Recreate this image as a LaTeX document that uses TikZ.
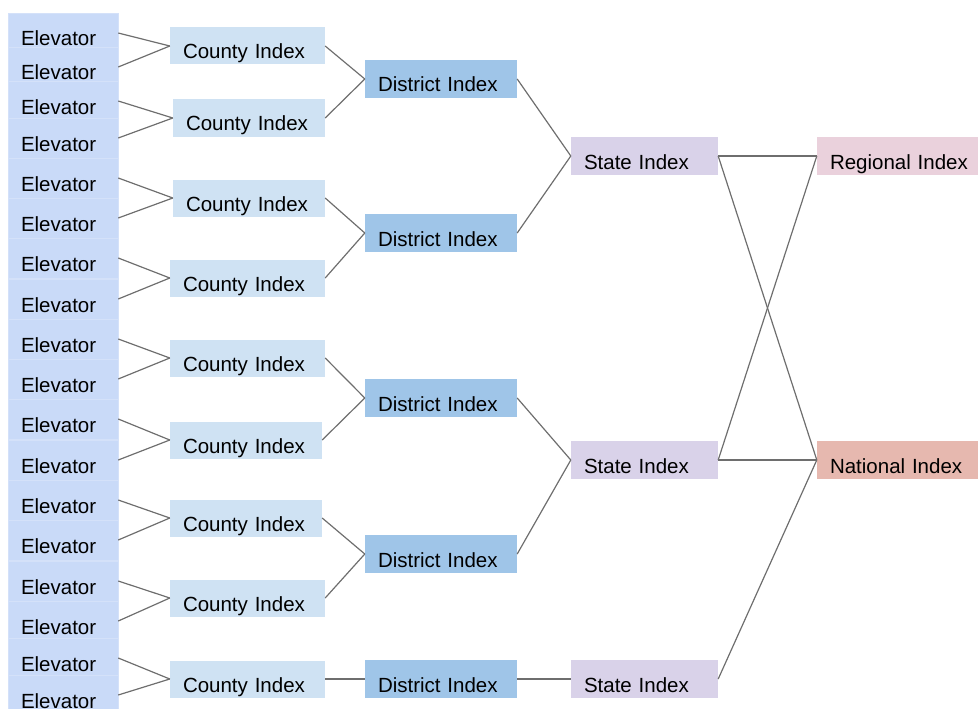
\documentclass[tikz,border=0pt]{standalone}
\usepackage{fontspec}
\setmainfont{Liberation Sans}
\usepackage{tikz}
\usetikzlibrary{shapes,arrows}
\definecolor{elevblue}{HTML}{C9DAF8}
\definecolor{countyblue}{HTML}{CFE2F3}
\definecolor{districtblue}{HTML}{9FC5E8}
\definecolor{statepurple}{HTML}{D9D2E9}
\definecolor{regionpink}{HTML}{EAD1DC}
\definecolor{nationred}{HTML}{E6B8AF}
\definecolor{linegray}{HTML}{6E6E6E}
\tikzstyle{box} = [rectangle, draw=none, align=left, inner xsep=13pt, inner ysep=0pt, text height=26pt, text depth=0pt, font=\fontsize{20.5}{24}\selectfont]
\tikzstyle{elev} = [box, fill=elevblue, draw=elevblue!80!white, line width=0.5pt, text width=84pt, minimum height=40pt]
\tikzstyle{county} = [box, fill=countyblue, text width=129pt, minimum height=37pt]
\tikzstyle{district} = [box, fill=districtblue, text width=126pt, minimum height=38pt]
\tikzstyle{state} = [box, fill=statepurple, text width=121pt, minimum height=38pt]
\tikzstyle{top} = [box, text width=135pt, minimum height=38pt]
\tikzstyle{link} = [draw=linegray, line width=1.2pt]

\begin{document}
\begin{tikzpicture}[x=1pt,y=-1pt]

\useasboundingbox (0,0) rectangle (978,709);

% elevators
\node[elev] (1) at (63,33) {Elevator};
\node[elev] (2) at (63,67) {Elevator};
\node[elev] (3) at (63,101) {Elevator};
\node[elev] (4) at (63,138) {Elevator};
\node[elev] (5) at (63,178) {Elevator};
\node[elev] (6) at (63,218) {Elevator};
\node[elev] (7) at (63,258) {Elevator};
\node[elev] (8) at (63,299) {Elevator};
\node[elev] (9) at (63,339) {Elevator};
\node[elev] (10) at (63,379) {Elevator};
\node[elev] (11) at (63,419) {Elevator};
\node[elev] (12) at (63,460) {Elevator};
\node[elev] (13) at (63,500) {Elevator};
\node[elev] (14) at (63,540) {Elevator};
\node[elev] (15) at (63,581) {Elevator};
\node[elev] (16) at (63,621) {Elevator};
\node[elev] (17) at (63,658) {Elevator};
\node[elev] (18) at (63,695) {Elevator};

% counties
\node[county] (21) at (247.5,46) {County Index};
\node[county, text width=126pt] (22) at (249,118) {County Index};
\node[county, text width=126pt] (23) at (249,198) {County Index};
\node[county] (24) at (247.5,278) {County Index};
\node[county] (25) at (247.5,358) {County Index};
\node[county, text width=126pt] (26) at (246,440) {County Index};
\node[county, text width=126pt] (27) at (246,518) {County Index};
\node[county] (28) at (247.5,598) {County Index};
\node[county] (29) at (247.5,679) {County Index};

% districts
\node[district] (31) at (441,79) {District Index};
\node[district] (32) at (441,233) {District Index};
\node[district] (33) at (441,398) {District Index};
\node[district] (34) at (441,554) {District Index};
\node[district] (35) at (441,679) {District Index};

% states
\node[state] (41) at (644.5,156) {State Index};
\node[state] (42) at (644.5,460) {State Index};
\node[state] (43) at (644.5,679) {State Index};

\node[top, fill=regionpink] (51) at (897.5,156) {\mbox{Regional Index}};
\node[top, fill=nationred] (52) at (897.5,460) {\mbox{National Index}};

\path
(1.east) edge [link] (21.west)
(2.east) edge [link] (21.west)
(3.east) edge [link] (22.west)
(4.east) edge [link] (22.west)
(5.east) edge [link] (23.west)
(6.east) edge [link] (23.west)
(7.east) edge [link] (24.west)
(8.east) edge [link] (24.west)
(9.east) edge [link] (25.west)
(10.east) edge [link] (25.west)
(11.east) edge [link] (26.west)
(12.east) edge [link] (26.west)
(13.east) edge [link] (27.west)
(14.east) edge [link] (27.west)
(15.east) edge [link] (28.west)
(16.east) edge [link] (28.west)
(17.east) edge [link] (29.west)
(18.east) edge [link] (29.west);

\path
(21.east) edge [link] (31.west)
(22.east) edge [link] (31.west)
(23.east) edge [link] (32.west)
(24.east) edge [link] (32.west)
(25.east) edge [link] (33.west)
(26.east) edge [link] (33.west)
(27.east) edge [link] (34.west)
(28.east) edge [link] (34.west)
(29.east) edge [link] (35.west);

\path
(31.east) edge [link] (41.west)
(32.east) edge [link] (41.west)
(33.east) edge [link] (42.west)
(34.east) edge [link] (42.west)
(35.east) edge [link] (43.west);

\path
(41.east) edge [link] (51.west)
(41.east) edge [link] (52.west)
(42.east) edge [link] (51.west)
(42.east) edge [link] (52.west)
(43.east) edge [link] (52.west);

\end{tikzpicture}
\end{document}
